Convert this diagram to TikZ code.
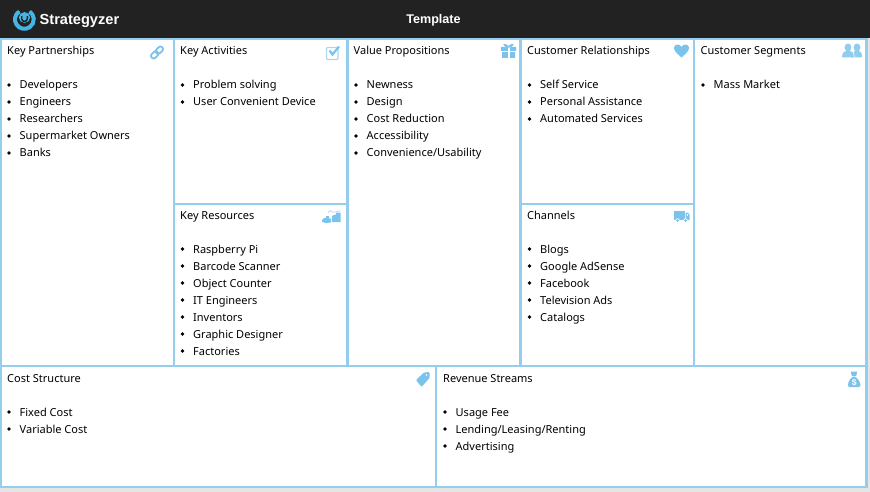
\documentclass[tikz,border=0pt]{standalone}
\usepackage{fontspec}
\setmainfont{Noto Sans}
\newfontfamily\boldface{Liberation Sans}
\definecolor{edge}{HTML}{95CEEC}
\definecolor{icon}{HTML}{7CC3EB}
\definecolor{bar}{HTML}{222222}
\definecolor{logo}{HTML}{45B4E5}
\tikzset{
  x=1pt,y=-1pt,
  cell/.style={draw=edge,line width=2.2pt,fill=white,rectangle,inner sep=0pt,outer sep=0pt},
  head/.style={anchor=base west,inner sep=0pt,font=\fontsize{11}{13}\selectfont,text=black},
  item/.style={anchor=base west,inner sep=0pt,font=\fontsize{11}{13}\selectfont,text=black},
  dot/.style={circle,fill=black,inner sep=0pt,minimum size=3.9pt},
  ic/.style={fill=icon,draw=none},
  icl/.style={draw=icon,line width=1.8pt,fill=none},
}
% \cellbox{name}{x0}{y0}{x1}{y1}
\newcommand{\cellbox}[5]{\node[cell,minimum width={(#4-#2)*1pt},minimum height={(#5-#3)*1pt},anchor=north west] (#1) at (#2,#3) {};}
% \entry{name}{bullet x}{baseline y}{text}
\newcommand{\entry}[4]{%
  \node[dot] (#1d) at (#2,#3-4) {};
  \node[item] (#1) at (#2+10.5,#3) {#4};}
\begin{document}
\begin{tikzpicture}
\useasboundingbox (0,0) rectangle (870,492);
\fill[black!10] (0,0) rectangle (870,492);
\fill[bar] (0,0) rectangle (870,38);

% logo
\draw[logo,line width=4pt] (19,11.7) arc[start angle=235,end angle=-55,radius=9.4];
\fill[logo] (18.4,12.2) circle (1.9) (30.6,12.2) circle (1.9);
\fill[logo] (24.5,17.5) ellipse (5.6 and 5.4);
\fill[bar] (21,16.2) -- (21,18.8) arc[start angle=180,end angle=0,radius=3.5] -- (28,16.2) -- (26.6,16.2) -- (26.6,18.6) arc[start angle=0,end angle=180,radius=2.1] -- (22.4,16.2) -- cycle;
\node[anchor=base west,inner sep=0pt,text=white,font=\boldface\fontsize{14.6}{16}\selectfont\bfseries] (brand) at (39.5,24.5) {Strategyzer};
\node[anchor=base,inner sep=0pt,text=white,font=\boldface\fontsize{12.6}{14}\selectfont\bfseries] (title) at (433.5,24) {Template};

% cells
\cellbox{kp}{1}{39}{174}{366}
\cellbox{ka}{174}{39}{347.5}{204}
\cellbox{kr}{174}{204}{347.5}{366}
\cellbox{vp}{347.5}{39}{520.5}{367}
\cellbox{cr}{520.5}{39}{694}{204}
\cellbox{ch}{520.5}{204}{694}{366}
\cellbox{cs}{694}{39}{866.5}{366}
\cellbox{cost}{1}{366}{436}{487}
\cellbox{rev}{436}{366}{866.5}{487}

% headings
\node[head] (h1) at (7,55) {Key Partnerships};
\node[head] (h2) at (180,55) {Key Activities};
\node[head] (h3) at (180,219) {Key Resources};
\node[head] (h4) at (353.5,55) {Value Propositions};
\node[head] (h5) at (527,55) {Customer Relationships};
\node[head] (h6) at (527,219) {Channels};
\node[head] (h7) at (700.5,55) {Customer Segments};
\node[head] (h8) at (7,382) {Cost Structure};
\node[head] (h9) at (443,382) {Revenue Streams};

% lists
\entry{a1}{9}{89}{Developers}
\entry{a2}{9}{106}{Engineers}
\entry{a3}{9}{123}{Researchers}
\entry{a4}{9}{140}{Supermarket Owners}
\entry{a5}{9}{157}{Banks}
\entry{b1}{182.5}{89}{Problem solving}
\entry{b2}{182.5}{106}{User Convenient Device}
\entry{c1}{182.5}{253}{Raspberry Pi}
\entry{c2}{182.5}{270}{Barcode Scanner}
\entry{c3}{182.5}{287}{Object Counter}
\entry{c4}{182.5}{304}{IT Engineers}
\entry{c5}{182.5}{321}{Inventors}
\entry{c6}{182.5}{338}{Graphic Designer}
\entry{c7}{182.5}{355}{Factories}
\entry{d1}{356}{89}{Newness}
\entry{d2}{356}{106}{Design}
\entry{d3}{356}{123}{Cost Reduction}
\entry{d4}{356}{140}{Accessibility}
\entry{d5}{356}{157}{Convenience/Usability}
\entry{e1}{529.5}{89}{Self Service}
\entry{e2}{529.5}{106}{Personal Assistance}
\entry{e3}{529.5}{123}{Automated Services}
\entry{f1}{529.5}{253}{Blogs}
\entry{f2}{529.5}{270}{Google AdSense}
\entry{f3}{529.5}{287}{Facebook}
\entry{f4}{529.5}{304}{Television Ads}
\entry{f5}{529.5}{321}{Catalogs}
\entry{g1}{703}{89}{Mass Market}
\entry{i1}{9}{416}{Fixed Cost}
\entry{i2}{9}{433}{Variable Cost}
\entry{j1}{445}{416}{Usage Fee}
\entry{j2}{445}{433}{Lending/Leasing/Renting}
\entry{j3}{445}{450}{Advertising}

% link icon (rotated the other way in the reference: rises to the right)
\draw[icl,rounded corners=2.5pt,rotate around={45:(157,52.5)}] (149.6,49.9) rectangle (157.8,55.1);
\draw[icl,rounded corners=2.5pt,rotate around={45:(157,52.5)}] (156.2,49.9) rectangle (164.4,55.1);

% check box icon
\draw[draw=icon!65,line width=1.4pt,rounded corners=1pt] (326.5,47.5) rectangle (338,59.5);
\draw[icon,line width=2.2pt] (329.5,50.5) -- (332.5,54.5) -- (339,46.5);

% gift icon
\fill[ic] (501,47) rectangle (516,50.8) (502,52) rectangle (515,58);
\fill[white] (507.5,47) rectangle (509.5,58);
\draw[icon,line width=1.2pt] (508.5,47) .. controls (504,42) and (502,46) .. (508.5,47) .. controls (515,46) and (513,42) .. (508.5,47);

% heart icon
\fill[ic] (681.5,57.5) .. controls (677,53.5) and (674,51) .. (674,47.8) .. controls (674,44.3) and (679.5,43) .. (681.5,47) .. controls (683.5,43) and (689,44.3) .. (689,47.8) .. controls (689,51) and (686,53.5) .. (681.5,57.5) -- cycle;

% people icon
\begin{scope}[fill=icon!85]
\fill (857,47.5) ellipse (3.4 and 4);
\fill (851,57.5) .. controls (851,52) and (853.5,51) .. (857,51) .. controls (860.5,51) and (862,52) .. (862,57.5) -- cycle;
\fill (848,47.5) ellipse (3.4 and 4);
\fill (842,57.5) .. controls (842,52) and (844.5,51) .. (848,51) .. controls (851.5,51) and (854,52) .. (854,57.5) -- cycle;
\end{scope}
\draw[white,line width=0.7pt] (852.5,44) -- (852.5,49) -- (853.5,52) -- (854.3,57.5);

% factory icon
\fill[ic] (322,220) -- (324,218) -- (326,218) -- (326,216) -- (329,216) -- (329,218.5) -- (331,218.5) -- (331,222.5) -- (326,223) -- (322,222) -- cycle;
\fill[ic] (332,222) -- (332,216) -- (335,214.5) -- (336,214.5) -- (336,212.5) -- (340.5,212.5) -- (340.5,222) -- cycle;
\draw[icon!60,line width=0.8pt] (328,212.5) -- (330,210.6) -- (333,212) -- (336,212) -- (340,210.6);

% truck icon
\fill[ic] (674,211) rectangle (685,220);
\fill[ic] (685.7,212.5) -- (688,212.5) -- (689.5,215) -- (689.5,220) -- (685.7,220) -- cycle;
\fill[white] (686.5,213.5) rectangle (688,215.5);
\fill[white] (677.5,220.5) circle (2.2) (685.5,220.5) circle (2.2);
\fill[icon] (677.5,220.5) circle (1.5) (685.5,220.5) circle (1.5);

% tag icon
\fill[ic,rounded corners=1pt] (416,380) -- (424,372.5) -- (429.5,372) -- (429.5,378) -- (421.5,387) -- cycle;
\fill[white] (426.5,375) circle (0.9);

% money bag icon
\fill[ic] (850.8,371.5) -- (857.2,371.5) -- (856.2,376) -- (851.8,376) -- cycle;
\fill[ic,rounded corners=2pt] (852,376.5) -- (856,376.5) -- (860.5,383) -- (860.5,387) -- (847.8,387) -- (847.8,383) -- cycle;
\node[inner sep=0pt,text=white,font=\boldface\fontsize{8.5}{9}\selectfont\bfseries] (money) at (854.2,382.5) {\$};
\end{tikzpicture}
\end{document}
